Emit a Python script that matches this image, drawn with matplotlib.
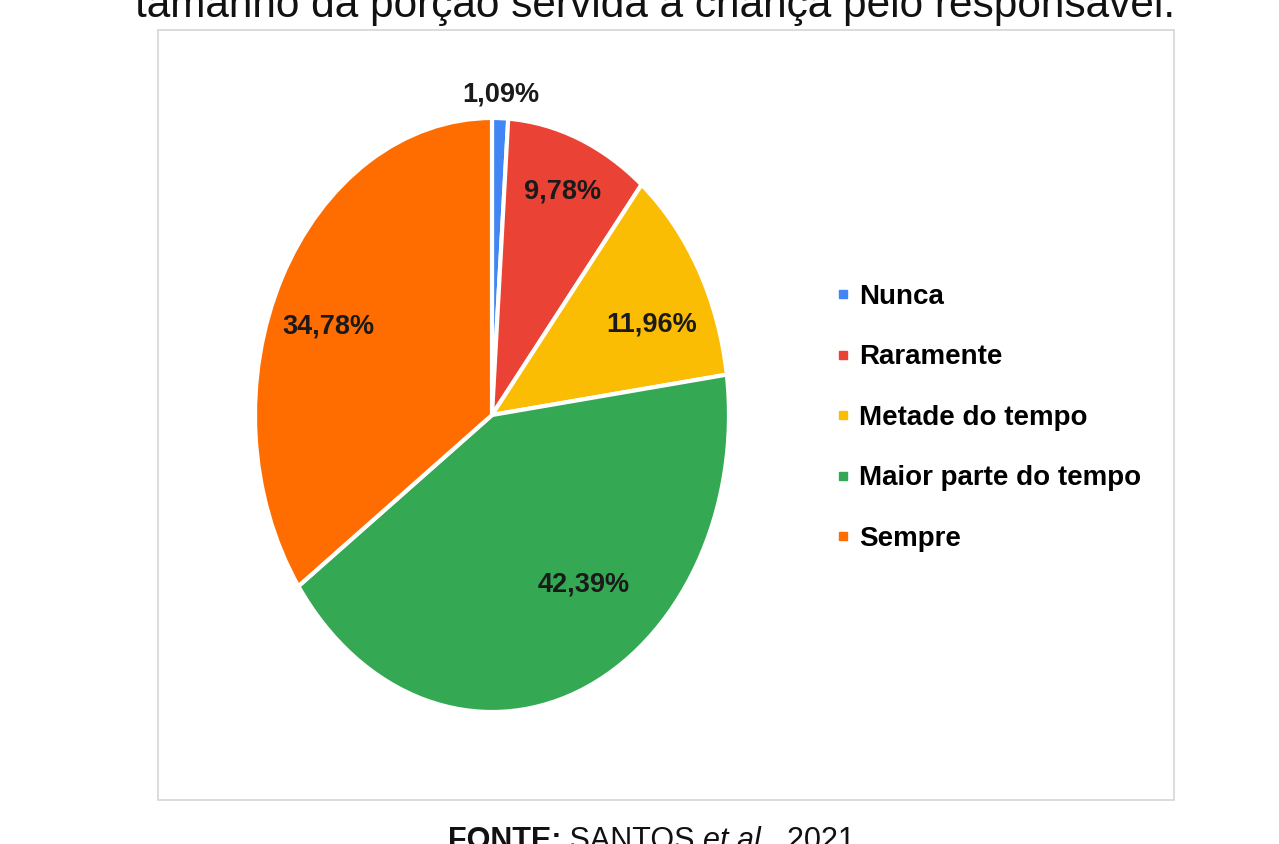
import numpy as np
import matplotlib.pyplot as plt
from matplotlib.patches import Rectangle
from matplotlib.lines import Line2D

# ---- data ----
categories = ['Nunca', 'Raramente', 'Metade do tempo', 'Maior parte do tempo', 'Sempre']
values = [1.09, 9.78, 11.96, 42.39, 34.78]
value_labels = ['1,09%', '9,78%', '11,96%', '42,39%', '34,78%']
colors = ['#4285F4', '#EA4335', '#FBBC04', '#34A853', '#FF6D01']
title_text = 'tamanho da porção servida à criança pelo responsável.'

# label placement styling (distance from centre, angular offset in degrees)
label_dist = [1.08, 0.81, 0.74, 0.69, 0.75]
label_off = [0, 0, -5, 12.5, 4]

W, H = 1279, 844
fig = plt.figure(figsize=(W / 100, H / 100), dpi=100)
fig.patch.set_facecolor('white')

FONT = ['Liberation Sans', 'DejaVu Sans']

# frame box
fig.patches.append(Rectangle((158 / W, 1 - 800 / H), 1016 / W, 770 / H,
                             transform=fig.transFigure, facecolor='none',
                             edgecolor='#d6d6d6', linewidth=1.2, zorder=-1))

# pie axes (stretched ellipse)
ax = fig.add_axes([255 / W, 1 - 712 / H, 474 / W, 594 / H])
ax.set_zorder(2)
wedges, _ = ax.pie(values, colors=colors, startangle=90, counterclock=False,
                   wedgeprops=dict(edgecolor='white', linewidth=3))
ax.set_aspect('auto')
ax.set_xlim(-1, 1)
ax.set_ylim(-1, 1)
ax.axis('off')

for w, lab, d, off in zip(wedges, value_labels, label_dist, label_off):
    mid = np.deg2rad((w.theta1 + w.theta2) / 2 + off)
    ax.text(d * np.cos(mid), d * np.sin(mid), lab, ha='center', va='center',
            fontsize=19.5, fontweight='bold', family=FONT, color='#1a1a1a')

handles = [Line2D([], [], marker='s', linestyle='none', markersize=6,
                  markerfacecolor=c, markeredgecolor=c) for c in colors]
fig.legend(handles, categories, loc='upper left',
           bbox_to_anchor=(837 / W, 1 - 284 / H), frameon=False,
           prop=dict(family=FONT, weight='bold', size=20),
           handlelength=0.45, handletextpad=0.35, labelspacing=1.24,
           borderpad=0, borderaxespad=0)

fig.text(655 / W, 1 - 17 / H, title_text, ha='center', va='baseline',
         fontsize=30.5, family=FONT, color='#111111')

t1 = fig.text(448 / W, 1 - 849 / H, 'FONTE:', ha='left', va='baseline',
              fontsize=22, fontweight='bold', family=FONT, color='#111111')
a2 = fig.add_artist(plt.Annotation(' SANTOS ', xy=(1, 0), xycoords=t1, va='bottom',
                                   fontsize=22, family=FONT, color='#111111'))
a3 = fig.add_artist(plt.Annotation('et al.', xy=(1, 0), xycoords=a2, va='bottom',
                                   fontsize=22, style='italic', family=FONT, color='#111111'))
a4 = fig.add_artist(plt.Annotation(', 2021.', xy=(1, 0), xycoords=a3, va='bottom',
                                   fontsize=22, family=FONT, color='#111111'))

fig.savefig('out.png', dpi=100)
